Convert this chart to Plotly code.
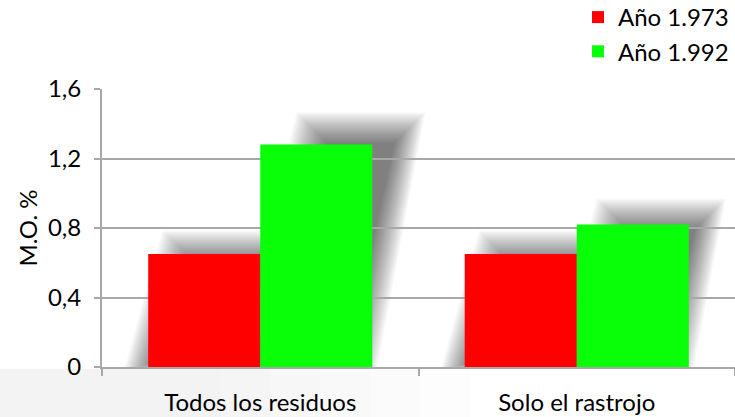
import plotly.graph_objects as go

# ---- data ----
categories = ["Todos los residuos", "Solo el rastrojo"]
series_names = ["Año 1.973", "Año 1.992"]
values_1973 = [0.65, 0.65]
values_1992 = [1.28, 0.82]
y_tick_values = [0, 0.4, 0.8, 1.2, 1.6]
y_tick_labels = ["0", "0,4", "0,8", "1,2", "1,6"]
series_colors = ["#ff0000", "#08ff08"]

# ---- layout constants ----
W, H = 735, 417
ML, MR, MT, MB = 102, 0, 89, 50
PW, PH = W - ML - MR, H - MT - MB
YMAX = 1.6
BARGAP = 0.292
FONT = "Lato"
FS = 24
GRID = "#a8a8a8"

fig = go.Figure()
for name, vals, col in zip(series_names, [values_1973, values_1992], series_colors):
    fig.add_trace(go.Bar(
        x=categories, y=vals, name=name, legendgroup=name,
        marker=dict(color=col, line=dict(width=0)),
        hoverinfo="skip",
    ))

shapes = []

# light grey band at the bottom-left of the picture (fading to the right)
for right_px in [220, 270, 320, 370, 420, 470]:
    shapes.append(dict(
        type="rect", xref="paper", yref="paper", layer="below",
        x0=-ML / PW, x1=(right_px - ML) / PW,
        y0=-MB / PH, y1=-2 / PH,
        fillcolor="rgba(0,0,0,0.0095)", line=dict(width=0),
    ))

# soft perspective shadows behind each bar (derived from bar values)
bar_w = (1 - BARGAP) / 2
N_LAYERS = 20
ALPHA = 0.03
for si, vals in enumerate([values_1973, values_1992]):
    for ci, v in enumerate(vals):
        x0 = ci - bar_w + si * bar_w
        x1 = x0 + bar_w
        bx0 = (x0 + 0.5) / 2 * PW
        bx1 = (x1 + 0.5) / 2 * PW
        h = v / YMAX * PH
        dx_top = 0.2 * h
        top = 1.08 * h
        for k in range(N_LAYERS):
            e = (k - N_LAYERS / 2) * 1.6
            pts = [
                (bx0 - 10 - e, -e * 0.3),
                (bx1 - 10 + e, -e * 0.3),
                (bx1 + dx_top - 6 + e, top + e),
                (bx0 + dx_top + 6 - e, top + e),
            ]
            path = "M " + " L ".join(
                f"{px / PW:.5f},{py / PH * YMAX:.5f}" for px, py in pts) + " Z"
            shapes.append(dict(
                type="path", xref="paper", yref="y", layer="below",
                path=path, fillcolor=f"rgba(0,0,0,{ALPHA})", line=dict(width=0),
            ))

fig.update_layout(
    width=W, height=H,
    margin=dict(l=ML, r=MR, t=MT, b=MB, pad=0, autoexpand=False),
    paper_bgcolor="white", plot_bgcolor="white",
    barmode="group", bargap=BARGAP, bargroupgap=0,
    separators=",.",
    font=dict(family=FONT, size=FS, color="#000000"),
    shapes=shapes,
    showlegend=True,
    legend=dict(
        x=(578 - ML) / PW, xanchor="left",
        y=(H - MB + 5) / PH, yanchor="top",
        font=dict(family=FONT, size=FS, color="#000000"),
        bgcolor="rgba(0,0,0,0)", tracegroupgap=4,
        traceorder="normal",
    ),
    xaxis=dict(
        type="category", tickson="boundaries", automargin=False,
        ticks="outside", ticklen=7, tickwidth=2, tickcolor=GRID,
        showline=True, linecolor=GRID, linewidth=2,
        showgrid=False, ticklabelstandoff=13,
        tickfont=dict(family=FONT, size=FS, color="#000000"),
        range=[-0.5, 1.5], fixedrange=True,
    ),
    yaxis=dict(
        range=[0, YMAX], tickvals=y_tick_values, ticktext=y_tick_labels,
        automargin=False,
        ticks="outside", ticklen=6, tickwidth=2, tickcolor=GRID,
        showline=True, linecolor=GRID, linewidth=2,
        showgrid=True, gridcolor=GRID, gridwidth=2,
        zeroline=False, ticklabelstandoff=8,
        tickfont=dict(family=FONT, size=FS, color="#000000"),
        title=dict(text="M.O. %", standoff=4,
                   font=dict(family=FONT, size=FS, color="#000000")),
        fixedrange=True,
    ),
)

fig.write_html(
    "out.html",
    config={"displayModeBar": False},
    post_script="document.body.style.margin='0';document.body.style.overflow='hidden';",
)
